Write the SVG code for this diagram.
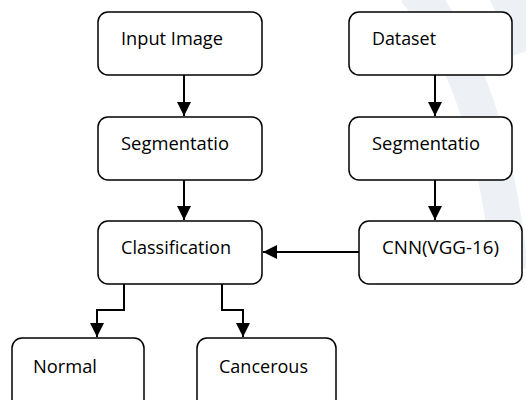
<svg xmlns="http://www.w3.org/2000/svg" width="526" height="400" viewBox="0 0 526 400">
<defs>
<style>
.box{fill:#fff;stroke:#000;stroke-width:1.5}
.lbl{font-family:"Open Sans","Liberation Sans",sans-serif;font-size:18px;fill:#000}
.con{fill:none;stroke:#000;stroke-width:2}
.wm{fill:none;stroke:#edf1f5;stroke-width:36}
</style>
<marker id="ah" viewBox="0 0 10 10" refX="10" refY="5" markerWidth="7.5" markerHeight="7" markerUnits="strokeWidth" orient="auto">
<path d="M0,0 L10,5 L0,10 Z" fill="#000"/>
</marker>
</defs>
<rect width="526" height="400" fill="#fff"/>
<g id="watermark">
<path class="wm" d="M415,-10 Q490,80 510,270"/>
<path class="wm" d="M505,-10 Q520,20 530,50" stroke-width="22"/>
</g>
<g id="connectors">
<path class="con" d="M184,75 V116" marker-end="url(#ah)"/>
<path class="con" d="M435,75 V116" marker-end="url(#ah)"/>
<path class="con" d="M184,180 V220" marker-end="url(#ah)"/>
<path class="con" d="M435,180 V220" marker-end="url(#ah)"/>
<path class="con" d="M359,252 H263" marker-end="url(#ah)"/>
<path class="con" d="M124,284 V310 H97 V337" marker-end="url(#ah)"/>
<path class="con" d="M222,284 V310 H243 V337" marker-end="url(#ah)"/>
</g>
<g id="input-image"><rect class="box" x="98" y="12" width="164" height="63" rx="10"/><text class="lbl" x="121" y="45" textLength="102" lengthAdjust="spacingAndGlyphs">Input Image</text></g>
<g id="dataset"><rect class="box" x="349" y="12" width="163" height="63" rx="10"/><text class="lbl" x="372" y="45" textLength="64" lengthAdjust="spacingAndGlyphs">Dataset</text></g>
<g id="segmentation-left"><rect class="box" x="98" y="117" width="164" height="63" rx="10"/><text class="lbl" x="121" y="150" textLength="108" lengthAdjust="spacingAndGlyphs">Segmentatio</text></g>
<g id="segmentation-right"><rect class="box" x="349" y="117" width="163" height="63" rx="10"/><text class="lbl" x="372" y="150" textLength="108" lengthAdjust="spacingAndGlyphs">Segmentatio</text></g>
<g id="classification"><rect class="box" x="98" y="221" width="164" height="63" rx="10"/><text class="lbl" x="121" y="254" textLength="110" lengthAdjust="spacingAndGlyphs">Classification</text></g>
<g id="cnn"><rect class="box" x="359" y="221" width="163" height="63" rx="10"/><text class="lbl" x="382" y="254" textLength="117" lengthAdjust="spacingAndGlyphs">CNN(VGG-16)</text></g>
<g id="normal"><rect class="box" x="12" y="338" width="132" height="72" rx="10"/><text class="lbl" x="33" y="373" textLength="64" lengthAdjust="spacingAndGlyphs">Normal</text></g>
<g id="cancerous"><rect class="box" x="197" y="338" width="139" height="72" rx="10"/><text class="lbl" x="219" y="373" textLength="89" lengthAdjust="spacingAndGlyphs">Cancerous</text></g>
</svg>
